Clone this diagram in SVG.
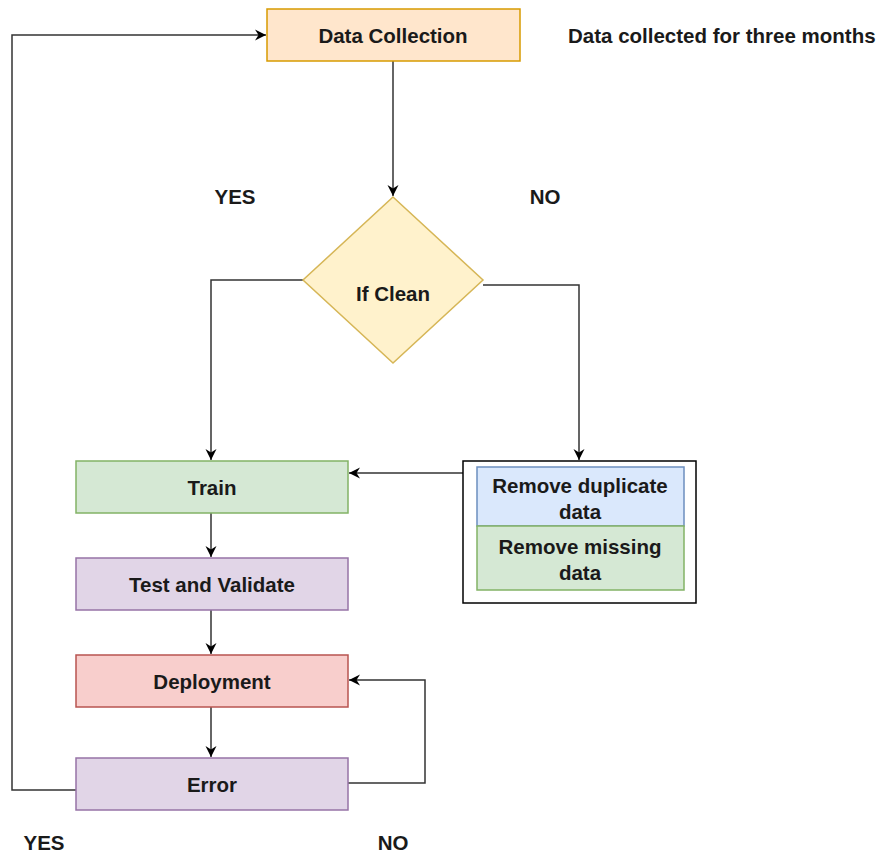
<svg xmlns="http://www.w3.org/2000/svg" width="880" height="854" viewBox="0 0 880 854">
<defs>
<marker id="ah" markerWidth="14" markerHeight="14" refX="11" refY="7" orient="auto" markerUnits="userSpaceOnUse">
<path d="M0,1.5 L11,7 L0,12.5 L3.5,7 Z" fill="#000"/>
</marker>
<style>
text{font-family:"Liberation Sans",Arial,sans-serif;font-weight:bold;font-size:20.5px;fill:#1a1a1a;text-anchor:middle;dominant-baseline:central}
.lbl{text-anchor:start}
.c{fill:none;stroke:#333;stroke-width:1.5}
.box{stroke-width:1.5}
</style>
</defs>
<rect width="880" height="854" fill="#fff"/>
<g id="connectors">
<path class="c" d="M393,61 V196" marker-end="url(#ah)"/>
<path class="c" d="M303,280 H211 V460" marker-end="url(#ah)"/>
<path class="c" d="M483,285 H579 V460" marker-end="url(#ah)"/>
<path class="c" d="M463,473 H349" marker-end="url(#ah)"/>
<path class="c" d="M211,513 V557" marker-end="url(#ah)"/>
<path class="c" d="M211,610 V654" marker-end="url(#ah)"/>
<path class="c" d="M211,707 V757" marker-end="url(#ah)"/>
<path class="c" d="M348,783 H425 V680 H349" marker-end="url(#ah)"/>
<path class="c" d="M76,790 H12 V35 H266" marker-end="url(#ah)"/>
</g>
<g id="data-collection">
<rect class="box" x="267" y="9" width="253" height="52" fill="#ffe6cc" stroke="#d79b00"/>
<text x="393" y="35">Data Collection</text>
</g>
<g id="note">
<text class="lbl" x="568" y="35">Data collected for three months</text>
</g>
<g id="if-clean">
<polygon class="box" points="393,197 483,280 393,363 303,280" fill="#fff2cc" stroke="#d6b656"/>
<text x="393" y="293">If Clean</text>
</g>
<g id="labels">
<text x="235" y="196">YES</text>
<text x="545" y="196">NO</text>
<text x="44" y="842">YES</text>
<text x="393" y="842">NO</text>
</g>
<g id="train">
<rect class="box" x="76" y="461" width="272" height="52" fill="#d5e8d4" stroke="#82b366"/>
<text x="212" y="487">Train</text>
</g>
<g id="test-validate">
<rect class="box" x="76" y="558" width="272" height="52" fill="#e1d5e7" stroke="#9673a6"/>
<text x="212" y="584">Test and Validate</text>
</g>
<g id="deployment">
<rect class="box" x="76" y="655" width="272" height="52" fill="#f8cecc" stroke="#b85450"/>
<text x="212" y="681">Deployment</text>
</g>
<g id="error">
<rect class="box" x="76" y="758" width="272" height="52" fill="#e1d5e7" stroke="#9673a6"/>
<text x="212" y="784">Error</text>
</g>
<g id="cleaning">
<rect x="463" y="461" width="233" height="142" fill="#fff" stroke="#000" stroke-width="1.5"/>
<rect class="box" x="477" y="467" width="207" height="59" fill="#dae8fc" stroke="#6c8ebf"/>
<text x="580" y="485">Remove duplicate</text>
<text x="580" y="511">data</text>
<rect class="box" x="477" y="526" width="207" height="64" fill="#d5e8d4" stroke="#82b366"/>
<text x="580" y="546">Remove missing</text>
<text x="580" y="572">data</text>
</g>
</svg>
